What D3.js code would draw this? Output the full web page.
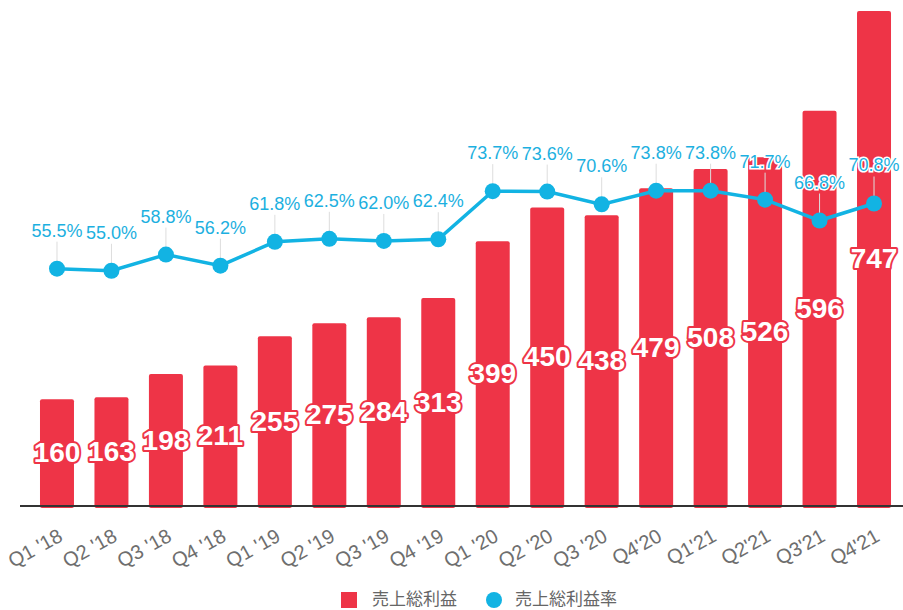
<!DOCTYPE html>
<html>
<head>
<meta charset="utf-8">
<script src="https://cdn.jsdelivr.net/npm/d3@7"></script>
<style>
  body { margin: 0; background: #fff; }
  svg { display: block; font-family: "Liberation Sans", Arial, sans-serif; }
  .bar-label { font-weight: bold; font-size: 28px; fill: #fff; stroke: #ee3447; stroke-width: 4px; paint-order: stroke; stroke-linejoin: round; }
  .rate-label { font-size: 18px; fill: #1cb0e0; stroke: #fff; stroke-width: 3px; paint-order: stroke; }
  .tick text { font-size: 20px; fill: #6e6e6e; }
  .legend text { font-family: "Noto Sans CJK JP", sans-serif; font-size: 17px; fill: #666; }
</style>
</head>
<body>
<div id="chart"></div>
<script>
const w = 903;
const h = 610;
const baseY = 505;
const red = '#ee3447';
const blue = '#12b3e3';

// data
const quarters = ["Q1 '18", "Q2 '18", "Q3 '18", "Q4 '18", "Q1 '19", "Q2 '19", "Q3 '19", "Q4 '19",
  "Q1 '20", "Q2 '20", "Q3 '20", "Q4'20", "Q1'21", "Q2'21", "Q3'21", "Q4'21"];
const grossProfit = [160, 163, 198, 211, 255, 275, 284, 313, 399, 450, 438, 479, 508, 526, 596, 747];
const grossMargin = [55.5, 55.0, 58.8, 56.2, 61.8, 62.5, 62.0, 62.4, 73.7, 73.6, 70.6, 73.8, 73.8, 71.7, 66.8, 70.8];
const legendNames = ['売上総利益', '売上総利益率'];

const svg = d3.select('#chart').
append('svg').
attr('width', w).
attr('height', h);

const xScale = d3.scaleBand().
domain(quarters).
range([29.75, 901.25]).
paddingInner(0.376).
paddingOuter(0.188);

const yScale = d3.scaleLinear().
domain([0, 747]).
range([baseY, 11]);

const rateScale = d3.scaleLinear().
domain([0, 116]).
range([baseY, 11]);

// bars
svg.selectAll('rect.bar').
data(grossProfit).
enter().
append('rect').
attr('class', 'bar').
attr('x', (d, i) => xScale(quarters[i])).
attr('y', d => yScale(d)).
attr('width', xScale.bandwidth()).
attr('height', d => baseY - yScale(d) + 3).
attr('rx', 2).
attr('fill', red);

// x axis
const xAxis = d3.axisBottom(xScale).tickSize(0);
const gx = svg.append('g').
attr('transform', 'translate(0,' + baseY + ')').
call(xAxis);
gx.select('.domain').remove();
gx.selectAll('.tick text').
attr('text-anchor', 'end').
attr('y', 0).
attr('dy', 0).
attr('transform', 'translate(7,35) rotate(-29)');

svg.append('line').
attr('x1', 20).
attr('x2', w).
attr('y1', baseY + 1).
attr('y2', baseY + 1).
attr('stroke', '#333').
attr('stroke-width', 2);

const cx = (d, i) => xScale(quarters[i]) + xScale.bandwidth() / 2;

// leader lines for rate labels
svg.selectAll('line.leader').
data(grossMargin).
enter().
append('line').
attr('class', 'leader').
attr('x1', cx).
attr('x2', cx).
attr('y1', d => rateScale(d) - 27).
attr('y2', d => rateScale(d)).
attr('stroke', '#ddd').
attr('stroke-width', 1);

// margin line
const line = d3.line().
x(cx).
y(d => rateScale(d));

svg.append('path').
datum(grossMargin).
attr('d', line).
attr('fill', 'none').
attr('stroke', blue).
attr('stroke-width', 3.5);

svg.selectAll('circle.dot').
data(grossMargin).
enter().
append('circle').
attr('class', 'dot').
attr('cx', cx).
attr('cy', d => rateScale(d)).
attr('r', 8).
attr('fill', blue);

// bar value labels
svg.selectAll('text.bar-label').
data(grossProfit).
enter().
append('text').
attr('class', 'bar-label').
attr('x', cx).
attr('y', d => (yScale(d) + baseY) / 2).
attr('dy', '0.36em').
attr('text-anchor', 'middle').
text(d => d);

// rate labels
svg.selectAll('text.rate-label').
data(grossMargin).
enter().
append('text').
attr('class', 'rate-label').
attr('x', cx).
attr('y', d => rateScale(d) - 32).
attr('text-anchor', 'middle').
text(d => d.toFixed(1) + '%');

// legend
const legend = svg.append('g').attr('class', 'legend');
legend.append('rect').
attr('x', 341).
attr('y', 592).
attr('width', 16).
attr('height', 16).
attr('fill', red);
legend.append('text').
attr('x', 372).
attr('y', 599).
attr('dy', '0.35em').
text(legendNames[0]);
legend.append('circle').
attr('cx', 494).
attr('cy', 600).
attr('r', 8).
attr('fill', blue);
legend.append('text').
attr('x', 515).
attr('y', 599).
attr('dy', '0.35em').
text(legendNames[1]);
</script>
</body>
</html>
